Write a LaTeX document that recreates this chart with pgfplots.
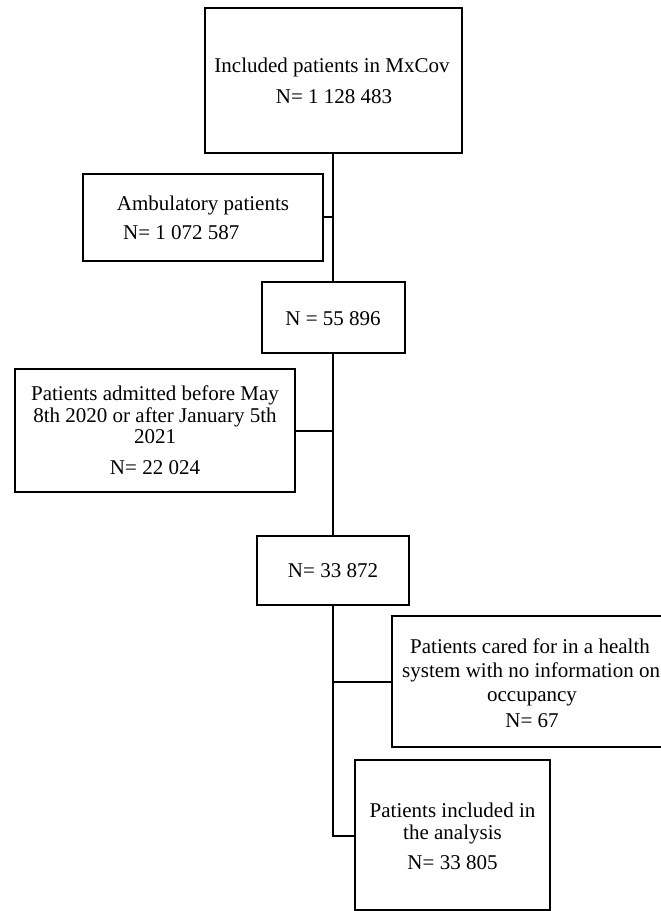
\documentclass[border=0pt]{standalone}
\usepackage{fontspec}
\setmainfont{Liberation Serif}
\usepackage{pgfplots}
\pgfplotsset{compat=1.18}
\begin{document}
\begin{tikzpicture}
\begin{axis}[
  x=1bp, y=1bp,
  xmin=0, xmax=661, ymin=0, ymax=911,
  y dir=reverse,
  scale only axis,
  hide axis,
  clip=false,
  bx/.style={draw=black, solid, line width=2.6bp, line join=miter, line cap=rect, mark=none},
  cn/.style={draw=black, solid, line width=2.2bp, line join=miter, mark=none},
  nodes={font=\fontsize{21bp}{22bp}\selectfont, inner sep=0pt, anchor=base},
]
% boxes
\addplot[bx] coordinates {(205,8) (462,8) (462,153) (205,153) (205,8)};
\addplot[bx] coordinates {(83,174) (323,174) (323,261) (83,261) (83,174)};
\addplot[bx] coordinates {(262,282) (405,282) (405,353) (262,353) (262,282)};
\addplot[bx] coordinates {(15,369) (295,369) (295,492) (15,492) (15,369)};
\addplot[bx] coordinates {(257,536) (409,536) (409,605) (257,605) (257,536)};
\addplot[bx] coordinates {(700,616) (392,616) (392,747) (700,747)};
\addplot[bx] coordinates {(355,760) (550,760) (550,910) (355,910) (355,760)};
% connectors
\addplot[bx] coordinates {(333,153) (333,282)};
\addplot[bx] coordinates {(333,353) (333,536)};
\addplot[bx] coordinates {(333,605) (333,836) (355,836)};
\addplot[cn] coordinates {(323,217) (333,217)};
\addplot[cn] coordinates {(295,431) (333,431)};
\addplot[cn] coordinates {(333,682) (392,682)};
% texts
\node at (axis cs:332,72) {Included patients in MxCov};
\node at (axis cs:334,103) {N= 1 128 483};
\node at (axis cs:203,210) {Ambulatory patients};
\node[anchor=base west] at (axis cs:123,239) {N= 1 072 587};
\node at (axis cs:333,325) {N = 55 896};
\node at (axis cs:155,400) {Patients admitted before May};
\node at (axis cs:155,422) {8th 2020 or after January 5th};
\node at (axis cs:155,443) {2021};
\node at (axis cs:155,474) {N= 22 024};
\node at (axis cs:333,577) {N= 33 872};
\node at (axis cs:530,653) {Patients cared for in a health};
\node[anchor=base west] at (axis cs:402,677) {system with no information on};
\node at (axis cs:532,701) {occupancy};
\node at (axis cs:532,727) {N= 67};
\node at (axis cs:452.5,817) {Patients included in};
\node at (axis cs:452.5,839) {the analysis};
\node at (axis cs:452.5,869) {N= 33 805};
\end{axis}
\pgfresetboundingbox
\path (0,0) rectangle (661bp,911bp);
\end{tikzpicture}
\end{document}
